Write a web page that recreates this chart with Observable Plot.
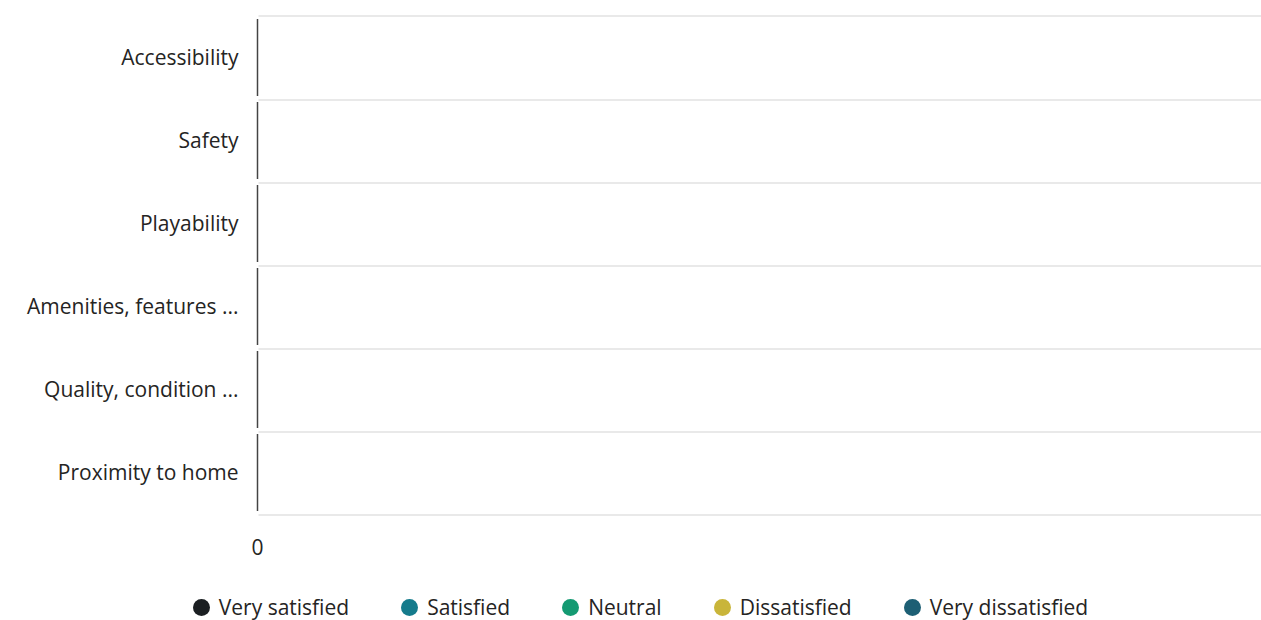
<!DOCTYPE html>
<html>
<head>
<meta charset="utf-8">
<script src="https://cdn.jsdelivr.net/npm/d3@7"></script>
<script src="https://cdn.jsdelivr.net/npm/@observablehq/plot@0.6"></script>
<style>
  html, body { margin: 0; padding: 0; background: #fff; }
  body { width: 1261px; height: 620px; overflow: hidden; font-family: "Open Sans", sans-serif; }
  #legend { position: absolute; left: 10px; top: 594px; width: 1261px; height: 26px; display: flex; justify-content: center; align-items: center; gap: 0; font-size: 21px; color: #252423; }
  .item { display: flex; align-items: center; margin: 0 26px; }
  .dot { width: 17px; height: 17px; border-radius: 50%; margin-right: 9px; }
</style>
</head>
<body>
<div id="chart"></div>
<div id="legend"></div>
<script>
const categories = ["Accessibility", "Safety", "Playability", "Amenities, features ...", "Quality, condition ...", "Proximity to home"];
const seriesNames = ["Very satisfied", "Satisfied", "Neutral", "Dissatisfied", "Very dissatisfied"];
const seriesColors = ["#1b1f22", "#157b8c", "#149a72", "#c9b53a", "#1d5f74"];
const verySatisfied = [0, 0, 0, 0, 0, 0];
const satisfied = [0, 0, 0, 0, 0, 0];
const neutral = [0, 0, 0, 0, 0, 0];
const dissatisfied = [0, 0, 0, 0, 0, 0];
const veryDissatisfied = [0, 0, 0, 0, 0, 0];
const xTicks = [0];

const seriesValues = [verySatisfied, satisfied, neutral, dissatisfied, veryDissatisfied];
const table = [];
seriesNames.forEach((s, i) => categories.forEach((c, j) => table.push({category: c, series: s, value: seriesValues[i][j]})));

const W = 1261, H = 580, mt = 13, mb = 64, ml = 257;
const band = (H - mt - mb) / categories.length;

const chart = Plot.plot({
  width: W, height: H,
  marginLeft: ml, marginRight: 0, marginTop: mt, marginBottom: mb,
  style: {fontFamily: "Open Sans, sans-serif", fontSize: "21px", color: "#252423", background: "#fff"},
  x: {domain: [0, 1], ticks: xTicks, tickSize: 0, tickPadding: 24, label: null, tickFormat: d => String(d)},
  y: {domain: categories, padding: 0, label: null, tickSize: 0, tickPadding: 19},
  color: {domain: seriesNames, range: seriesColors},
  marks: [
    Plot.ruleY(categories, {y: d => d, dy: band / 2, x1: 0.0015, x2: 1, stroke: "#e9e9e9", strokeWidth: 2}),
    Plot.ruleY(categories.slice(0, 1), {y: d => d, dy: -band / 2, x1: 0.0015, x2: 1, stroke: "#e9e9e9", strokeWidth: 2}),
    Plot.barX(table, Plot.stackX({x: "value", y: "category", fill: "series", insetTop: 14, insetBottom: 14})),
    Plot.tickX(categories, {x: () => 0, y: d => d, stroke: "#444", strokeWidth: 1.5, inset: 3})
  ]
});
document.getElementById("chart").appendChild(chart);

const legend = document.getElementById("legend");
seriesNames.forEach((s, i) => {
  const it = document.createElement("div"); it.className = "item";
  const dot = document.createElement("span"); dot.className = "dot"; dot.style.background = seriesColors[i];
  const t = document.createElement("span"); t.textContent = s;
  it.appendChild(dot); it.appendChild(t); legend.appendChild(it);
});
</script>
</body>
</html>
